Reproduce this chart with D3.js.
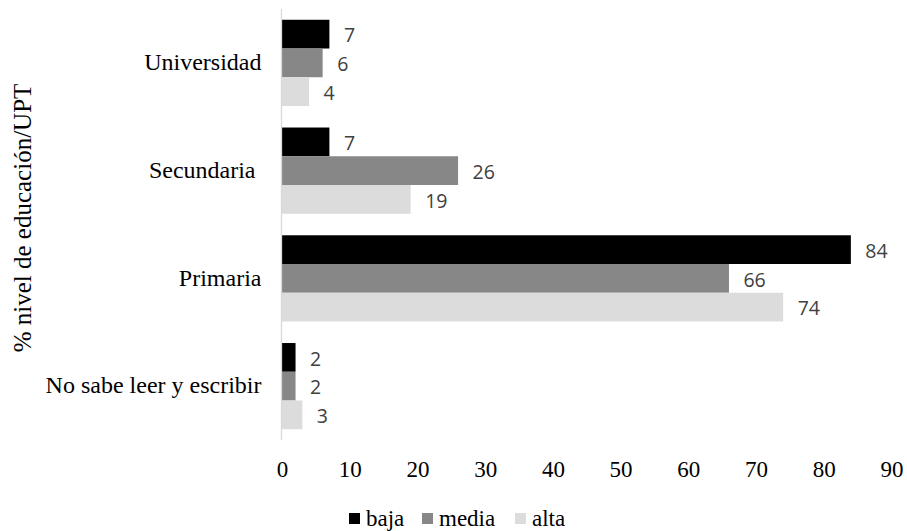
<!DOCTYPE html>
<html>
<head>
<meta charset="utf-8">
<script src="https://cdn.jsdelivr.net/npm/d3@7"></script>
<style>
  html, body { margin: 0; padding: 0; background: #fff; }
  svg { display: block; }
  .serif { font-family: "Liberation Serif", "Times New Roman", "DejaVu Serif", serif; }
  .sans { font-family: "Open Sans", "Noto Sans", sans-serif; }
</style>
</head>
<body>
<svg id="chart" width="907" height="531"></svg>
<script>
// Education level per socioeconomic stratum (%)
const categories = ["Universidad", "Secundaria ", "Primaria", "No sabe leer y escribir"];
const seriesNames = ["baja", "media", "alta"];
const baja  = [7, 7, 84, 2];
const media = [6, 26, 66, 2];
const alta  = [4, 19, 74, 3];
const xTicks = [0, 10, 20, 30, 40, 50, 60, 70, 80, 90];
const axisTitle = "% nivel de educación/UPT";

const colors = { baja: "#000000", media: "#878787", alta: "#dcdcdc" };
const values = { baja, media, alta };

const svg = d3.select("#chart");
const margin = { left: 282, right: 16, top: 9, bottom: 91 };
const W = 907, H = 531;

const x = d3.scaleLinear().domain([0, 90]).range([margin.left, 891.5]);
const y = d3.scaleBand().domain(categories).range([margin.top, H - margin.bottom])
  .paddingInner(0.2).paddingOuter(0.1);
const ySub = d3.scaleBand().domain(seriesNames).range([0, y.bandwidth()]);

const rows = categories.map((c, i) => ({ cat: c, bars: seriesNames.map(s => ({ s, v: values[s][i] })) }));

// Bars
const groups = svg.append("g").selectAll("g").data(rows).join("g")
  .attr("transform", d => `translate(0,${y(d.cat)})`);

groups.selectAll("rect").data(d => d.bars).join("rect")
  .attr("x", x(0))
  .attr("y", d => ySub(d.s))
  .attr("width", d => x(d.v) - x(0))
  .attr("height", ySub.bandwidth())
  .attr("fill", d => colors[d.s]);

// Value labels
groups.selectAll("text").data(d => d.bars).join("text")
  .attr("class", "sans")
  .attr("x", d => x(d.v) + 14.5)
  .attr("y", d => ySub(d.s) + ySub.bandwidth() / 2)
  .attr("dy", "0.42em")
  .attr("font-size", 19.5)
  .attr("fill", "#404040")
  .text(d => d.v);

// Vertical category axis
const yAxis = svg.append("g")
  .attr("transform", `translate(${x(0) - 0.5},0)`)
  .call(d3.axisLeft(y).tickSize(0).tickPadding(20));
yAxis.attr("font-family", null);
yAxis.select(".domain").attr("stroke", "#d9d9d9").attr("stroke-width", 1.3)
  .attr("d", `M0,${margin.top}V${H - margin.bottom}`);
yAxis.selectAll(".tick text")
  .attr("class", "serif")
  .attr("font-size", 24)
  .attr("fill", "#000")
  .attr("dy", "0.3em")
  .style("white-space", "pre");

// Horizontal value axis (labels only)
const xAxis = svg.append("g")
  .attr("transform", `translate(0,${H - margin.bottom})`)
  .call(d3.axisBottom(x).tickValues(xTicks).tickSize(0).tickPadding(21));
xAxis.attr("font-family", null);
xAxis.select(".domain").remove();
xAxis.selectAll(".tick text")
  .attr("class", "serif")
  .attr("font-size", 23)
  .attr("fill", "#000");

// Axis title
svg.append("text")
  .attr("class", "serif")
  .attr("transform", "translate(31,218) rotate(-90)")
  .attr("text-anchor", "middle")
  .attr("font-size", 25)
  .attr("fill", "#000")
  .text(axisTitle);

// Legend
const legendX = [349, 422, 515];
const legend = svg.append("g").selectAll("g").data(seriesNames).join("g")
  .attr("transform", (d, i) => `translate(${legendX[i]},513)`);
legend.append("rect").attr("width", 11).attr("height", 11).attr("fill", d => colors[d]);
legend.append("text")
  .attr("class", "serif")
  .attr("x", 17).attr("y", 12.5)
  .attr("font-size", 23)
  .attr("fill", "#000")
  .text(d => d);
</script>
</body>
</html>
